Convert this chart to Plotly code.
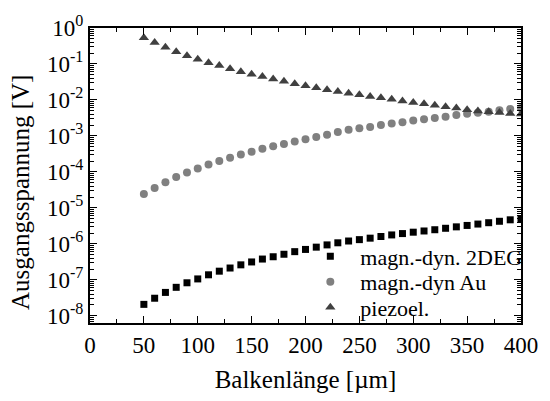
import plotly.graph_objects as go

length_um = [50, 60, 70, 80, 90, 100, 110, 120, 130, 140, 150, 160, 170, 180, 190, 200,
             210, 220, 230, 240, 250, 260, 270, 280, 290, 300, 310, 320, 330, 340, 350,
             360, 370, 380, 390, 400]

v_2deg = [2.08e-8, 3.08e-8, 4.47e-8, 6.19e-8, 8.28e-8, 1.06e-7, 1.38e-7, 1.74e-7, 2.13e-7,
          2.61e-7, 3.14e-7, 3.78e-7, 4.38e-7, 5.14e-7, 6.07e-7, 7.0e-7, 8.1e-7, 9.35e-7,
          1.07e-6, 1.20e-6, 1.31e-6, 1.44e-6, 1.60e-6, 1.77e-6, 1.93e-6, 2.11e-6, 2.28e-6,
          2.47e-6, 2.71e-6, 2.97e-6, 3.25e-6, 3.55e-6, 3.87e-6, 4.24e-6, 4.66e-6, 5.07e-6]

v_au = [2.42e-5, 3.56e-5, 5.16e-5, 7.16e-5, 9.57e-5, 1.25e-4, 1.60e-4, 2.01e-4, 2.46e-4,
        3.03e-4, 3.65e-4, 4.39e-4, 5.15e-4, 5.98e-4, 7.02e-4, 8.13e-4, 9.37e-4, 1.08e-3,
        1.28e-3, 1.49e-3, 1.63e-3, 1.77e-3, 2.00e-3, 2.22e-3, 2.41e-3, 2.68e-3, 2.90e-3,
        3.16e-3, 3.43e-3, 3.80e-3, 4.12e-3, 4.38e-3, 4.72e-3, 5.18e-3, 5.61e-3, 5.97e-3]

v_piezo = [0.540, 0.396, 0.291, 0.218, 0.170, 0.136, 0.108, 0.0902, 0.0736, 0.0611, 0.0518,
           0.0449, 0.0380, 0.0330, 0.0284, 0.0247, 0.0218, 0.0193, 0.0171, 0.0153, 0.0139,
           0.0125, 0.0116, 0.0104, 0.00936, 0.00849, 0.00778, 0.00718, 0.00647, 0.00597,
           0.00537, 0.00496, 0.00467, 0.00447, 0.00420, 0.00405]

series_names = ["magn.-dyn. 2DEG", "magn.-dyn Au", "piezoel."]

x_ticks = [0, 50, 100, 150, 200, 250, 300, 350, 400]
y_tickvals = [1e0, 1e-1, 1e-2, 1e-3, 1e-4, 1e-5, 1e-6, 1e-7, 1e-8]
y_ticktext = ["10<sup>0</sup>", "10<sup>-1</sup>", "10<sup>-2</sup>", "10<sup>-3</sup>",
              "10<sup>-4</sup>", "10<sup>-5</sup>", "10<sup>-6</sup>", "10<sup>-7</sup>",
              "10<sup>-8</sup>"]

x_title = "Balkenlänge [µm]"
y_title = "Ausgangsspannung [V]"

font_family = "Times New Roman, Liberation Serif, serif"

fig = go.Figure()
fig.add_trace(go.Scatter(x=length_um, y=v_2deg, mode="markers", name=series_names[0],
                         legend="legend",
                         marker=dict(symbol="square", size=7, color="#000000")))
fig.add_trace(go.Scatter(x=length_um, y=v_au, mode="markers", name=series_names[1],
                         legend="legend2",
                         marker=dict(symbol="circle", size=8, color="#808080")))
fig.add_trace(go.Scatter(x=length_um, y=v_piezo, mode="markers", name=series_names[2],
                         legend="legend3",
                         marker=dict(symbol="triangle-up", size=9, color="#404040")))

def legend_box(ypos):
    return dict(x=0.488, y=ypos, xanchor="left", yanchor="middle",
                bgcolor="rgba(0,0,0,0)", font=dict(family=font_family, size=22),
                itemwidth=50)

fig.update_layout(
    width=550, height=401,
    margin=dict(l=90, r=22, t=20, b=75),
    paper_bgcolor="white", plot_bgcolor="white",
    font=dict(family=font_family, size=23, color="black"),
    showlegend=True,
    legend=legend_box(0.2255),
    legend2=legend_box(0.1395),
    legend3=legend_box(0.0523),
    xaxis=dict(range=[0, 400], tickvals=x_ticks, ticks="inside", ticklen=7,
               tickwidth=1, tickcolor="black", showline=True, linewidth=2,
               linecolor="black", mirror="allticks", showgrid=False, zeroline=False,
               minor=dict(dtick=25, ticks="inside", ticklen=4, tickcolor="black",
                          showgrid=False),
               title=dict(text=x_title, standoff=14,
                          font=dict(family=font_family, size=25)),
               tickfont=dict(family=font_family, size=23)),
    yaxis=dict(type="log", range=[-8.2, 0], tickvals=y_tickvals, ticktext=y_ticktext,
               ticks="inside", ticklen=7, tickwidth=1, tickcolor="black",
               showline=True, linewidth=2, linecolor="black", mirror="allticks",
               showgrid=False, zeroline=False,
               minor=dict(dtick="D1", ticks="inside", ticklen=4, tickcolor="black",
                          showgrid=False),
               tickfont=dict(family=font_family, size=23)),
    annotations=[dict(text=y_title, textangle=-90, xref="paper", yref="paper",
                      x=-0.16, y=0.441, xanchor="center", yanchor="middle",
                      showarrow=False, font=dict(family=font_family, size=25))],
)

fig.write_html("out.html")
